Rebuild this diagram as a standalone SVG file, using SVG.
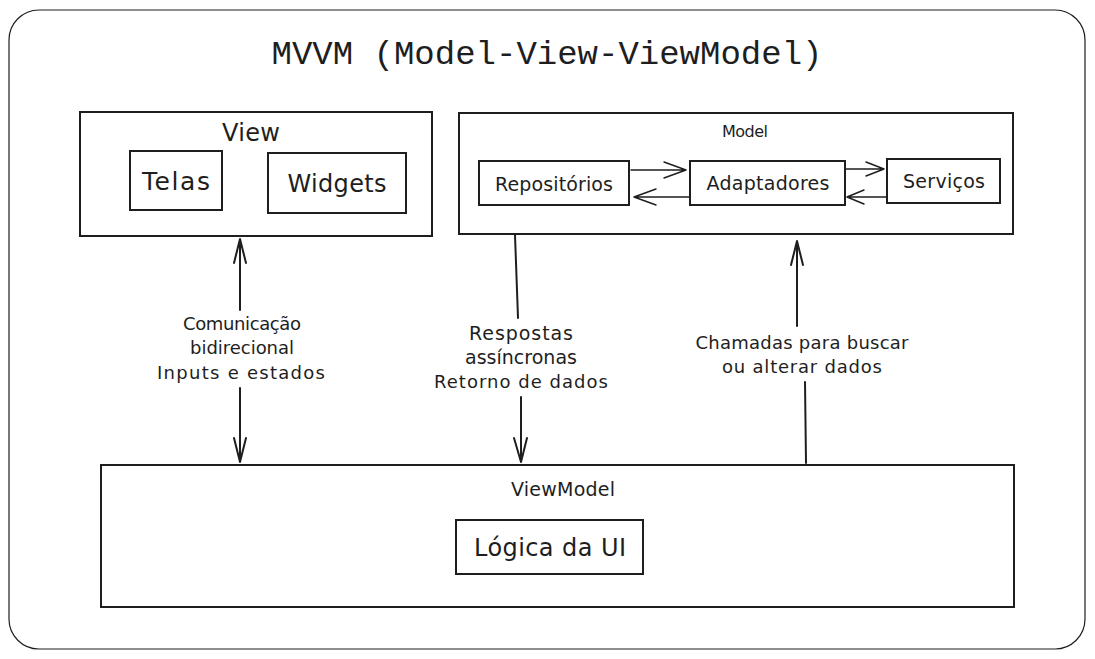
<svg xmlns="http://www.w3.org/2000/svg" width="1095" height="659" viewBox="0 0 1095 659">
<style>
.box{fill:#fff;stroke:#1e1e1e;stroke-width:2}
.frame{fill:#fff;stroke:#1e1e1e;stroke-width:1.2}
.t{font-family:"DejaVu Sans","Liberation Sans",sans-serif;fill:#1e1e1e;text-anchor:middle;dominant-baseline:central}
.title{font-family:"Liberation Mono","DejaVu Sans Mono",monospace;fill:#1e1e1e;text-anchor:middle;font-size:34px}
.ln{fill:none;stroke:#1e1e1e;stroke-width:2;stroke-linecap:round;stroke-linejoin:round}
.ln1{fill:none;stroke:#1e1e1e;stroke-width:1.4;stroke-linecap:round;stroke-linejoin:round}
</style>
<rect width="1095" height="659" fill="#fff"/>
<g id="frame">
<rect class="frame" x="9" y="10" width="1076" height="639" rx="30" ry="30"/>
<text class="title" x="547" y="64">MVVM (Model-View-ViewModel)</text>
</g>
<g id="view">
<rect class="box" x="80" y="112" width="352" height="124"/>
<text class="t" x="251" y="133" font-size="24" textLength="58">View</text>
</g>
<g id="telas">
<rect class="box" x="130" y="151" width="92" height="59"/>
<text class="t" x="176" y="181" font-size="25" textLength="68">Telas</text>
</g>
<g id="widgets">
<rect class="box" x="268" y="153" width="138" height="60"/>
<text class="t" x="337" y="184" font-size="24" textLength="99">Widgets</text>
</g>
<g id="model">
<rect class="box" x="459" y="113" width="554" height="121"/>
<text class="t" x="745" y="131" font-size="16" textLength="46">Model</text>
</g>
<g id="repositorios">
<rect class="box" x="479" y="161" width="150" height="44"/>
<text class="t" x="554" y="184" font-size="19" textLength="118">Repositórios</text>
</g>
<g id="adaptadores">
<rect class="box" x="690" y="161" width="155" height="44"/>
<text class="t" x="768" y="183" font-size="19" textLength="123">Adaptadores</text>
</g>
<g id="servicos">
<rect class="box" x="887" y="159" width="113" height="44"/>
<text class="t" x="944" y="181" font-size="19" textLength="82">Serviços</text>
</g>
<g id="viewmodel">
<rect class="box" x="101" y="465" width="913" height="142"/>
<text class="t" x="563" y="489" font-size="19" textLength="104">ViewModel</text>
</g>
<g id="logica">
<rect class="box" x="456" y="520" width="187" height="54"/>
<text class="t" x="550" y="548" font-size="24" textLength="152">Lógica da UI</text>
</g>
<g id="connectors">
<path class="ln1" d="M631 170 L686 170 M664 162 L686 170 L664 178"/>
<path class="ln1" d="M689 197 L634 197 M656 189 L634 197 L656 205"/>
<path class="ln1" d="M846 169 L884 169 M866 162 L884 169 L866 176"/>
<path class="ln1" d="M886 197 L847 197 M864 190 L847 197 L864 204"/>
<path class="ln" d="M240 239 L240 310 M234 263 L240 239 L246 263"/>
<path class="ln" d="M240 388 L240 462 M234 438 L240 462 L246 438"/>
<text class="t" x="242" y="323" font-size="18" textLength="118">Comunicação</text>
<text class="t" x="242" y="347" font-size="18" textLength="104">bidirecional</text>
<text class="t" x="241" y="372" font-size="18" textLength="168">Inputs e estados</text>
<path class="ln" d="M515 235 L518 318"/>
<path class="ln" d="M521 397 L521 462 M514 438 L521 462 L527 438"/>
<text class="t" x="521" y="333" font-size="19" textLength="104">Respostas</text>
<text class="t" x="521" y="357" font-size="19" textLength="112">assíncronas</text>
<text class="t" x="521" y="381" font-size="18" textLength="174">Retorno de dados</text>
<path class="ln" d="M797 326 L797 241 M791 265 L797 241 L803 265"/>
<path class="ln" d="M805 382 L806 463"/>
<text class="t" x="802" y="342" font-size="18" textLength="213">Chamadas para buscar</text>
<text class="t" x="802" y="366" font-size="18" textLength="160">ou alterar dados</text>
</g>
</svg>
